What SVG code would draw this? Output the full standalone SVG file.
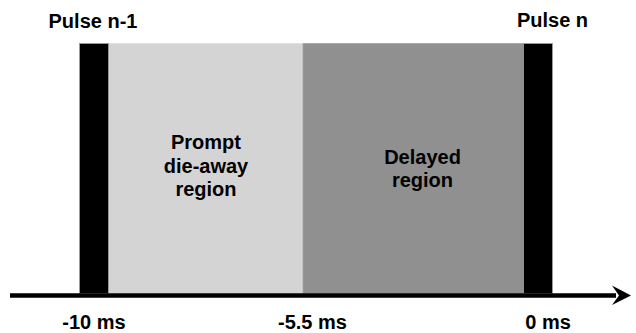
<svg xmlns="http://www.w3.org/2000/svg" width="636" height="333" viewBox="0 0 636 333">
  <style>
    text { font-family: "Liberation Sans", Arial, sans-serif; font-weight: bold; font-size: 20px; fill: #000; text-anchor: middle; }
    .pulse { fill: #000; stroke: #a0a0a0; stroke-width: 0.8; }
    .prompt { fill: #d4d4d4; stroke: #e2e2e2; stroke-width: 0.8; }
    .delayed { fill: #909090; stroke: #a4a4a4; stroke-width: 0.8; }
  </style>
  <rect width="636" height="333" fill="#fff"/>
  <g id="prompt-region">
    <rect class="prompt" x="108.5" y="43.5" width="194.5" height="250"/>
    <text x="206" y="149">Prompt</text>
    <text x="206" y="172.5">die-away</text>
    <text x="206" y="196">region</text>
  </g>
  <g id="delayed-region">
    <rect class="delayed" x="303" y="43.5" width="220.5" height="250"/>
    <text x="422.5" y="164">Delayed</text>
    <text x="422.5" y="187">region</text>
  </g>
  <g id="pulse-n-1">
    <rect class="pulse" x="79.5" y="43.5" width="29" height="250"/>
    <text x="93" y="28">Pulse n-1</text>
  </g>
  <g id="pulse-n">
    <rect class="pulse" x="523.5" y="43.5" width="29" height="250"/>
    <text x="552.5" y="27">Pulse n</text>
  </g>
  <g id="connectors">
    <line x1="10" y1="295.5" x2="616" y2="295.5" stroke="#000" stroke-width="4.5"/>
    <polygon points="612,285.5 631,295.5 612,305 619,295.5" fill="#000"/>
  </g>
  <g id="axis-labels">
    <text x="94" y="329">-10 ms</text>
    <text x="312.5" y="328.5">-5.5 ms</text>
    <text x="548" y="329">0 ms</text>
  </g>
</svg>
